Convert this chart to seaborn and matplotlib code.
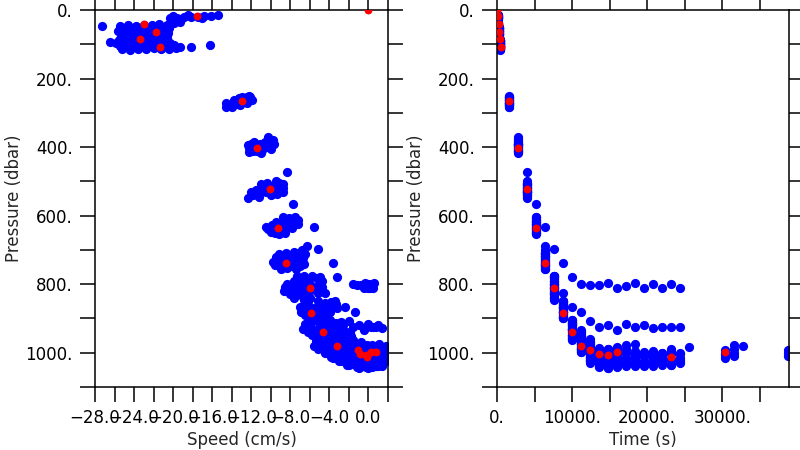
import matplotlib
matplotlib.use('Agg')
import matplotlib.pyplot as plt
import pandas as pd
import seaborn as sns

# near-surface samples, first ~120 dbar of the descent
top_time = [100, 100, 100, 100, 100, 100, 100, 100, 100, 100, 100, 100,
            180, 180, 180, 180, 180, 180, 180, 180, 180, 150,
            210, 210, 210, 210, 210, 210, 210,
            240, 240, 240, 240, 240, 240, 240,
            275, 275, 275, 275, 275, 275, 275,
            310, 310, 310, 310, 310, 310, 310,
            345, 345, 345, 345, 345, 345, 345,
            380, 380, 380, 380, 380, 380, 380, 380, 380,
            410, 410, 410, 410, 410, 410, 410, 410,
            440, 440, 440, 440, 440, 440, 440, 440, 440, 440, 400]
top_speed = [-20.3, -19.6, -18.9, -18.2, -17.5, -16.8, -16.1, -15.4, -20.0, -19.2, -18.5, -17.0,
             -25.4, -24.6, -23.8, -23.0, -22.2, -21.4, -20.6, -19.9, -27.3, -19.3,
             -25.0, -24.2, -23.4, -22.6, -21.8, -21.0, -20.4,
             -25.6, -24.9, -24.1, -23.3, -22.5, -21.7, -20.9,
             -25.2, -24.4, -23.6, -22.8, -22.0, -21.2, -20.5,
             -25.3, -24.5, -23.7, -22.9, -22.1, -21.3, -20.6,
             -25.5, -24.7, -23.9, -23.1, -22.3, -21.5, -20.7,
             -25.8, -25.0, -24.2, -23.4, -22.6, -21.8, -21.0, -20.3, -26.5,
             -25.4, -24.6, -23.8, -23.0, -22.2, -21.4, -20.6, -19.9,
             -25.2, -24.4, -23.6, -22.8, -22.0, -21.2, -20.4, -19.7, -19.3, -18.2, -16.2]
top_pres = [23, 22, 21, 20, 19, 18, 17, 16, 18, 25, 16, 22,
            46, 44, 47, 43, 45, 42, 44, 38, 47, 34,
            53, 54, 52, 55, 53, 51, 52,
            60, 63, 61, 64, 60, 62, 59,
            71, 70, 72, 69, 71, 70, 68,
            78, 81, 79, 82, 80, 78, 81,
            88, 89, 87, 90, 88, 87, 89,
            96, 98, 95, 99, 97, 96, 98, 95, 92,
            105, 106, 104, 107, 105, 104, 106, 103,
            114, 116, 113, 115, 112, 114, 113, 110, 107, 107, 102]

# deeper samples, one list per time step
col_time = [1620, 2820, 4020, 5220, 6420, 7620, 8820, 10020, 11220, 12420,
            13620, 14820, 16020, 17220, 18420, 19620, 20820, 22020, 23220,
            24420, 25620, 30420, 31620, 32820, 38820]
col_speed = [
    [-14.6, -14.1, -13.6, -13.1, -12.6, -12.1, -13.9, -13.4, -12.9, -12.4, -14.3, -12.8, -13.3,
     -14.0, -13.2, -12.4, -11.9, -12.2, -13.0, -13.8, -14.6],
    [-12.2, -11.8, -11.4, -10.9, -10.5, -10.1, -9.8, -11.6, -11.1, -10.6, -10.2, -12.0, -11.3,
     -12.2, -11.0, -10.0, -9.7, -10.8, -11.7, -12.3, -10.3],
    [-12.3, -11.8, -11.3, -10.8, -10.3, -9.8, -9.3, -8.8, -8.7, -9.2, -9.7, -10.2, -10.7, -11.0, -9.5, -10.5, -8.3,
     -12.0, -11.5, -11.0, -10.0, -9.4, -8.8, -9.0, -10.4, -11.2],
    [-10.3, -10.0, -9.6, -9.2, -8.8, -8.4, -8.0, -7.6, -7.2, -7.5, -8.1, -8.6, -9.0, -9.5, -9.9, -7.8, -7.7,
     -10.5, -9.8, -9.2, -8.5, -8.2, -7.2, -8.8, -9.5],
    [-9.5, -9.1, -8.7, -8.3, -7.9, -7.5, -7.1, -6.7, -6.5, -6.8, -7.2, -7.7, -8.2, -8.8, -9.2, -8.0, -6.3, -5.6,
     -9.6, -9.0, -8.5, -7.4, -7.0, -6.6, -6.9, -7.6, -8.4, -9.8],
    [-8.3, -7.9, -7.5, -7.1, -6.7, -6.3, -5.9, -5.5, -5.1, -4.8, -5.3, -5.8, -6.4, -6.9, -7.4, -6.0, -7.0, -5.2, -7.35, -8.5,
     -8.6, -8.0, -7.6, -6.6, -6.0, -5.2, -4.8, -5.0, -6.6, -7.6, -6.5],
    [-6.9, -6.5, -6.1, -5.7, -5.3, -4.9, -4.5, -4.1, -3.7, -3.3, -3.8, -4.4, -5.0, -5.5, -6.0, -6.4, -3.6, -4.5,
     -7.0, -6.6, -6.2, -5.0, -4.4, -3.9, -3.2, -3.4, -5.2, -6.2, -4.6, -5.4],
    [-6.5, -6.0, -5.6, -5.2, -4.8, -4.3, -3.8, -3.4, -3.0, -2.6, -3.3, -3.9, -4.5, -5.0, -5.5, -4.2, -3.2, -2.4,
     -6.7, -6.2, -5.8, -5.2, -4.6, -3.6, -3.0, -2.6, -2.8, -3.6, -5.9, -4.8, -3.8],
    [-5.4, -5.0, -4.6, -4.2, -3.8, -3.4, -3.0, -2.6, -2.2, -1.8, -2.3, -2.9, -3.5, -4.1, -4.7, -3.2, -1.6, -1.4,
     -5.6, -5.2, -4.4, -3.2, -2.4, -2.0, -1.6, -1.9, -2.6, -4.4, -3.8, -3.0],
    [-4.2, -3.8, -3.4, -3.0, -2.6, -2.2, -1.8, -1.4, -1.0, -0.6, -1.2, -1.8, -2.4, -3.0, -2.5, -1.2, -2.0,
     -4.4, -3.6, -2.8, -2.0, -1.2, -0.8, -0.4, -0.8, -1.6, -2.2, -3.2],
    [-3.5, -3.0, -2.5, -2.0, -1.5, -1.0, -0.5, 0.0, 0.4, 0.2, -0.4, -1.0, -1.6, -2.2, -0.8, -0.8, -1.6,
     -3.8, -3.0, -2.2, -1.2, -0.2, 0.6, 0.8, -2.8, -1.8, -0.2],
    [-2.8, -2.3, -1.8, -1.3, -0.8, -0.3, 0.2, 0.7, 1.2, 1.0, 0.5, -0.2, -1.0, -1.6, -0.5, -0.4, -1.0,
     -2.0, -1.0, 0.0, 0.8, 1.5, 1.6, 1.6, -2.5, 0.4, -1.0],
    [-2.0, -1.5, -1.0, -0.5, 0.0, 0.5, 1.0, 1.5, 1.7, 1.2, 0.6, 0.0, -0.6, -1.2, 0.3, 0.0, -0.5,
     -1.8, -0.8, 0.4, 1.4, 1.8, -1.6, -0.5, 0.8, 1.9],
    [-1.8, -1.2, -0.6, 0.0, 0.6, 1.2, 1.7, 1.0, -0.2, 0.4, 0.3, 0.0],
    [-1.6, -1.0, -0.4, 0.2, 0.8, 1.4, 1.8, 0.6, -0.6, 1.1, 0.6, 0.5],
    [-1.4, -0.8, -0.2, 0.4, 1.0, 1.6, 1.9, 0.1, -1.0, 0.2, 1.0],
    [-1.2, -0.6, 0.0, 0.6, 1.2, 1.8, 0.9, -0.3, -1.6, -0.2, 1.4],
    [-1.0, -0.4, 0.2, 0.8, 1.4, 1.9, 0.5, -1.4, 0.5, 0.8],
    [-1.6, -0.9, -0.2, 0.5, 1.2, 1.7, 0.3, -0.6, 0.1, -0.3],
    [-0.8, 0.0, 0.8, 1.5, 0.4, -1.2, -0.5, 0.3],
    [1.5],
    [-0.6, 0.0, 0.7, 0.3],
    [-0.2, 0.5, 1.2, 0.9],
    [1.8],
    [0.4, 1.0, 0.2],
]
col_pres = [
    [282, 278, 275, 270, 262, 255, 270, 265, 260, 254, 276, 268, 258,
     284, 278, 270, 262, 250, 254, 262, 270],
    [402, 410, 412, 408, 400, 390, 378, 395, 390, 385, 377, 390, 403,
     415, 418, 405, 392, 397, 384, 395, 370],
    [548, 540, 533, 528, 530, 526, 524, 520, 508, 505, 512, 515, 518, 508, 500, 532, 472,
     530, 525, 520, 540, 538, 532, 512, 505, 545],
    [640, 648, 650, 645, 638, 632, 625, 618, 612, 605, 608, 612, 625, 630, 628, 635, 566,
     632, 640, 655, 650, 618, 625, 605, 618],
    [722, 735, 745, 752, 748, 740, 732, 725, 712, 700, 710, 718, 726, 718, 712, 738, 690, 632,
     745, 755, 728, 755, 748, 740, 718, 705, 710, 735],
    [800, 812, 822, 830, 838, 828, 818, 810, 800, 790, 782, 776, 785, 795, 802, 800, 815, 696, 776, 807,
     820, 828, 840, 845, 840, 825, 808, 780, 775, 790, 810],
    [880, 890, 897, 900, 895, 888, 880, 872, 865, 858, 852, 856, 862, 870, 868, 862, 739, 825,
     868, 878, 885, 898, 895, 880, 870, 850, 850, 850, 868, 882],
    [915, 925, 935, 945, 952, 958, 950, 940, 930, 920, 912, 905, 910, 918, 905, 928, 780, 866,
     930, 940, 948, 958, 962, 960, 948, 935, 910, 920, 912, 930, 935],
    [965, 975, 985, 992, 994, 990, 982, 972, 962, 950, 940, 935, 945, 955, 950, 965, 800, 882,
     980, 990, 998, 998, 988, 975, 962, 940, 950, 968, 975, 955],
    [985, 995, 1005, 1012, 1020, 1023, 1015, 1005, 995, 985, 975, 968, 960, 975, 995, 802, 906,
     1000, 1015, 1025, 1030, 1022, 1010, 998, 968, 985, 1010, 995],
    [1000, 1010, 1018, 1026, 1032, 1036, 1030, 1020, 1008, 995, 988, 985, 995, 1000, 1012, 802, 926,
     1012, 1025, 1035, 1042, 1040, 1028, 1010, 1000, 1012, 1005],
    [1002, 1012, 1022, 1030, 1038, 1042, 1035, 1025, 1012, 998, 990, 988, 992, 998, 1015, 796, 919,
     1035, 1045, 1045, 1040, 1028, 1010, 995, 1020, 1005, 1010],
    [1005, 1015, 1025, 1033, 1036, 1030, 1020, 1008, 995, 985, 983, 990, 995, 998, 1010, 810, 934,
     1030, 1040, 1042, 1038, 1025, 1010, 1015, 998, 985],
    [1002, 1014, 1026, 1036, 1040, 1030, 1016, 1000, 990, 978, 804, 917],
    [1000, 1010, 1022, 1034, 1040, 1028, 1012, 1000, 996, 975, 798, 924],
    [998, 1012, 1024, 1036, 1040, 1026, 1008, 1000, 1004, 810, 919],
    [1000, 1014, 1028, 1040, 1032, 1018, 1004, 996, 1010, 800, 927],
    [1002, 1016, 1030, 1036, 1022, 1006, 1000, 1024, 810, 926],
    [990, 1004, 1018, 1032, 1036, 1020, 998, 1036, 800, 926],
    [1002, 1016, 1030, 1020, 1004, 1028, 812, 924],
    [984],
    [992, 1000, 1008, 1016],
    [978, 990, 1000, 1011],
    [980],
    [992, 1002, 1011],
]

# red: one representative sample per step
red_time = [0, 100, 230, 300, 390, 470, 1620, 2820, 4020, 5220, 6420, 7620,
            8820, 10020, 11220, 12420, 13620, 14820, 16020, 23220, 30420]
red_speed = [0.0, -17.6, -23.0, -21.8, -23.4, -21.3, -13.0, -11.4, -10.1, -9.3, -8.4, -6.0,
             -5.9, -4.65, -3.2, -1.05, -0.85, -0.3, 0.77, -0.1, 0.25]
red_pres = [0, 17, 41, 63, 86, 108, 265, 402, 523, 637, 737, 811,
            883, 940, 980, 993, 1005, 1007, 999, 1012, 997]

speed_major = [-28, -24, -20, -16, -12, -8, -4, 0]
speed_minor = [-26, -22, -18, -14, -10, -6, -2, 2]
time_major = [0, 10000, 20000, 30000]
time_minor = [5000, 15000, 25000, 35000]
pres_major = [0, 200, 400, 600, 800, 1000]
pres_minor = [100, 300, 500, 700, 900, 1100]

# build tables
rows = []
for t, v, p in zip(top_time, top_speed, top_pres):
    rows.append((t, v, p))
for t, vs, ps in zip(col_time, col_speed, col_pres):
    for v, p in zip(vs, ps):
        rows.append((t, v, p))
blue = pd.DataFrame(rows, columns=['time', 'speed', 'pres'])
red = pd.DataFrame({'time': red_time, 'speed': red_speed, 'pres': red_pres})

sns.set_theme(style='ticks')
plt.rcParams['font.family'] = ['DejaVu Sans']
plt.rcParams['axes.linewidth'] = 1.1

fig = plt.figure(figsize=(8, 4.5), dpi=100)
ax1 = fig.add_axes([95 / 800, 1 - 387 / 450, 293 / 800, 377 / 450])
ax2 = fig.add_axes([497 / 800, 1 - 387 / 450, 292 / 800, 377 / 450])

for ax, xcol in [(ax1, 'speed'), (ax2, 'time')]:
    sns.scatterplot(data=blue, x=xcol, y='pres', ax=ax, color='#0000ff',
                    s=44, linewidth=0, legend=False, zorder=2)
    sns.scatterplot(data=red, x=xcol, y='pres', ax=ax, color='#ff0000',
                    s=32, linewidth=0, legend=False, zorder=3)
    ax.set_ylim(1100, 0)
    ax.set_yticks(pres_major)
    ax.set_yticks(pres_minor, minor=True)
    ax.set_yticklabels([f'{v}.' for v in pres_major])
    ax.set_ylabel('Pressure (dbar)', fontsize=12, labelpad=2)
    ax.tick_params(which='both', direction='out', length=11, width=1.1,
                   top=True, right=True, colors='black', labelsize=12, pad=5)
    for s in ax.spines.values():
        s.set_color('black')
        s.set_visible(True)

ax1.set_xlim(-28, 2)
ax1.set_xticks(speed_major)
ax1.set_xticks(speed_minor, minor=True)
ax1.set_xticklabels([f'{v:.1f}'.replace('-', '\u2212') for v in speed_major])
ax1.set_xlabel('Speed (cm/s)', fontsize=12, labelpad=3)

ax2.set_xlim(0, 38900)
ax2.set_xticks(time_major)
ax2.set_xticks(time_minor, minor=True)
ax2.set_xticklabels([f'{v}.' for v in time_major])
ax2.set_xlabel('Time (s)', fontsize=12, labelpad=3)

fig.savefig('out.png', dpi=100)
